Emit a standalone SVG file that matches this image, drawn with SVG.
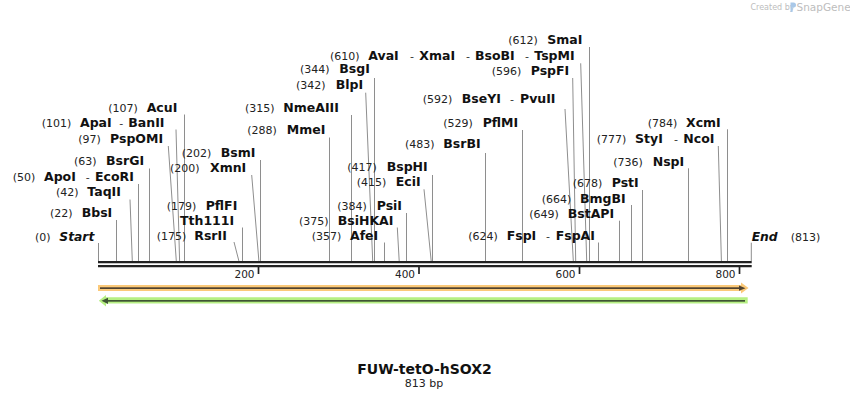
<svg xmlns="http://www.w3.org/2000/svg" width="850" height="400" viewBox="0 0 850 400">
<style>
text{font-family:"DejaVu Sans","Liberation Sans",sans-serif}
.n{font-size:11px;fill:#222}
.e{font-size:12.5px;font-weight:bold;fill:#111}
.i{font-size:12.3px;font-weight:bold;font-style:italic;fill:#111}
.d{font-size:11px;fill:#333}
.c{stroke:#8e8e8e;stroke-width:1;fill:none}
.t{font-size:10.5px;fill:#222;text-anchor:end}
.tk{stroke:#222;stroke-width:1.7}
.bb{stroke:#222;stroke-width:2.3}
</style>
<rect width="850" height="400" fill="#fff"/>
<g id="watermark">
<text x="750.5" y="10" style="font-size:8px;fill:#bdbdbd">Created by</text>
<path d="M790.5 2.5 h3 a2.5 2.5 0 0 1 0 5 h-1 v4.5 h-2 z" fill="#a9c8e8"/>
<text x="796.5" y="11" style="font-size:10.5px;fill:#bdbdbd">SnapGene</text>
</g>
<g id="connectors">
<line class="c" x1="98.5" y1="243" x2="98.5" y2="261"/>
<line class="c" x1="116.5" y1="220" x2="116.5" y2="261"/>
<line class="c" x1="130" y1="199.5" x2="132.3" y2="261"/>
<line class="c" x1="138.5" y1="184" x2="138.5" y2="261"/>
<line class="c" x1="149.5" y1="168.5" x2="149.5" y2="261"/>
<line class="c" x1="168.3" y1="146" x2="176.3" y2="261"/>
<line class="c" x1="176" y1="129.5" x2="179.6" y2="261"/>
<line class="c" x1="184.5" y1="114.5" x2="184.5" y2="261"/>
<line class="c" x1="234" y1="242" x2="238.9" y2="261"/>
<line class="c" x1="242.5" y1="227.5" x2="242.5" y2="261"/>
<line class="c" x1="251.7" y1="175" x2="258.9" y2="261"/>
<line class="c" x1="260.5" y1="160" x2="260.5" y2="261"/>
<line class="c" x1="329.5" y1="137.5" x2="329.5" y2="261"/>
<line class="c" x1="351.5" y1="115" x2="351.5" y2="261"/>
<line class="c" x1="365.7" y1="92.7" x2="372.7" y2="261"/>
<line class="c" x1="374.5" y1="78" x2="374.5" y2="261"/>
<line class="c" x1="384.5" y1="242.5" x2="384.5" y2="261"/>
<line class="c" x1="397.3" y1="227.5" x2="399.2" y2="261"/>
<line class="c" x1="406.5" y1="213" x2="406.5" y2="261"/>
<line class="c" x1="424" y1="189.3" x2="431.2" y2="261"/>
<line class="c" x1="432.5" y1="175" x2="432.5" y2="261"/>
<line class="c" x1="485.5" y1="153" x2="485.5" y2="261"/>
<line class="c" x1="522.5" y1="130" x2="522.5" y2="261"/>
<line class="c" x1="565" y1="109" x2="573.3" y2="261"/>
<line class="c" x1="572.7" y1="78" x2="575.7" y2="261"/>
<line class="c" x1="580.7" y1="63.3" x2="586.7" y2="261"/>
<line class="c" x1="589.5" y1="47" x2="589.5" y2="261"/>
<line class="c" x1="598.5" y1="242.5" x2="598.5" y2="261"/>
<line class="c" x1="619.5" y1="220.7" x2="619.5" y2="261"/>
<line class="c" x1="631.5" y1="205" x2="631.5" y2="261"/>
<line class="c" x1="642.5" y1="190" x2="642.5" y2="261"/>
<line class="c" x1="688.5" y1="168.3" x2="688.5" y2="261"/>
<line class="c" x1="718.3" y1="146" x2="721.4" y2="261"/>
<line class="c" x1="727.5" y1="129.3" x2="727.5" y2="261"/>
<line class="c" x1="751.3" y1="242.7" x2="751.3" y2="261"/>
</g>
<g id="backbone">
<line class="bb" x1="98" y1="262.2" x2="751.7" y2="262.2"/>
<line class="bb" x1="98" y1="266.2" x2="751.7" y2="266.2"/>
<line class="tk" x1="258.5" y1="267" x2="258.5" y2="274"/>
<line class="tk" x1="419" y1="267" x2="419" y2="274"/>
<line class="tk" x1="579.5" y1="267" x2="579.5" y2="274"/>
<line class="tk" x1="739.5" y1="267" x2="739.5" y2="274"/>
<text class="t" x="254.5" y="278.3">200</text>
<text class="t" x="415" y="278.3">400</text>
<text class="t" x="575.5" y="278.3">600</text>
<text class="t" x="735.5" y="278.3">800</text>
</g>
<g id="feature-forward">
<path d="M98 285 H741 V282.5 L748.5 288 L741 293.5 V291 H98 Z" fill="#fbc979"/>
<rect x="100" y="287.3" width="640" height="1.7" fill="#4f4230"/>
<path d="M739 285.6 L745.5 288.15 L739 290.7 Z" fill="#4f4230"/>
</g>
<g id="feature-reverse">
<path d="M747.7 297.3 H106 V295 L98.8 300.8 L106 306.6 V303.6 H747.7 Z" fill="#b6ef83"/>
<rect x="107" y="300" width="638" height="1.7" fill="#3f5534"/>
<path d="M108 297.8 L101.5 300.85 L108 303.9 Z" fill="#3f5534"/>
</g>
<g id="start"><text class="n" x="35" y="240.5">(0)</text><text class="i" x="59.3" y="240.5">Start</text></g>
<g id="BbsI"><text class="n" x="50" y="217.3">(22)</text><text class="e" x="81.7" y="217.3">BbsI</text></g>
<g id="TaqII"><text class="n" x="56" y="196">(42)</text><text class="e" x="87.3" y="196">TaqII</text></g>
<g id="ApoI-EcoRI"><text class="n" x="12.7" y="180.7">(50)</text><text class="e" x="44" y="180.7">ApoI</text><text class="d" x="85.7" y="180.7">-</text><text class="e" x="95" y="180.7">EcoRI</text></g>
<g id="BsrGI"><text class="n" x="74" y="165.3">(63)</text><text class="e" x="106" y="165.3">BsrGI</text></g>
<g id="PspOMI"><text class="n" x="78.3" y="143.3">(97)</text><text class="e" x="110" y="143.3">PspOMI</text></g>
<g id="ApaI-BanII"><text class="n" x="41.7" y="126.7">(101)</text><text class="e" x="80" y="126.7">ApaI</text><text class="d" x="119.3" y="126.7">-</text><text class="e" x="128.3" y="126.7">BanII</text></g>
<g id="AcuI"><text class="n" x="108.3" y="112">(107)</text><text class="e" x="146.7" y="112">AcuI</text></g>
<g id="RsrII"><text class="n" x="156.7" y="240">(175)</text><text class="e" x="194.3" y="240">RsrII</text></g>
<g id="PflFI-Tth111I"><text class="n" x="166.7" y="210">(179)</text><text class="e" x="205.7" y="210">PflFI</text><text class="e" x="180" y="224.7">Tth111I</text></g>
<g id="XmnI"><text class="n" x="170" y="171.7">(200)</text><text class="e" x="210" y="171.7">XmnI</text></g>
<g id="BsmI"><text class="n" x="181.7" y="156.7">(202)</text><text class="e" x="220.7" y="156.7">BsmI</text></g>
<g id="MmeI"><text class="n" x="247.3" y="134">(288)</text><text class="e" x="286.7" y="134">MmeI</text></g>
<g id="NmeAIII"><text class="n" x="245" y="111.7">(315)</text><text class="e" x="283.3" y="111.7">NmeAIII</text></g>
<g id="BlpI"><text class="n" x="296" y="89.3">(342)</text><text class="e" x="335.7" y="89.3">BlpI</text></g>
<g id="BsgI"><text class="n" x="300" y="73.3">(344)</text><text class="e" x="339.3" y="73.3">BsgI</text></g>
<g id="AfeI"><text class="n" x="311.7" y="240">(357)</text><text class="e" x="350" y="240">AfeI</text></g>
<g id="BsiHKAI"><text class="n" x="299" y="225">(375)</text><text class="e" x="337.7" y="225">BsiHKAI</text></g>
<g id="PsiI"><text class="n" x="337.3" y="210">(384)</text><text class="e" x="376.7" y="210">PsiI</text></g>
<g id="EciI"><text class="n" x="356.7" y="186">(415)</text><text class="e" x="395.7" y="186">EciI</text></g>
<g id="BspHI"><text class="n" x="347.3" y="171">(417)</text><text class="e" x="386.7" y="171">BspHI</text></g>
<g id="BsrBI"><text class="n" x="405" y="148.3">(483)</text><text class="e" x="443.3" y="148.3">BsrBI</text></g>
<g id="PflMI"><text class="n" x="443.3" y="126.7">(529)</text><text class="e" x="482.7" y="126.7">PflMI</text></g>
<g id="BseYI-PvuII"><text class="n" x="422.7" y="103.3">(592)</text><text class="e" x="461.7" y="103.3">BseYI</text><text class="d" x="510" y="103.3">-</text><text class="e" x="520" y="103.3">PvuII</text></g>
<g id="PspFI"><text class="n" x="491.7" y="74.5">(596)</text><text class="e" x="530.7" y="74.5">PspFI</text></g>
<g id="AvaI-XmaI-BsoBI-TspMI"><text class="n" x="330" y="60">(610)</text><text class="e" x="368.3" y="60">AvaI</text><text class="d" x="410" y="60">-</text><text class="e" x="419.3" y="60">XmaI</text><text class="d" x="466" y="60">-</text><text class="e" x="475" y="60">BsoBI</text><text class="d" x="525" y="60">-</text><text class="e" x="534.3" y="60">TspMI</text></g>
<g id="SmaI"><text class="n" x="508.3" y="44">(612)</text><text class="e" x="547.3" y="44">SmaI</text></g>
<g id="FspI-FspAI"><text class="n" x="468.3" y="240">(624)</text><text class="e" x="506.7" y="240">FspI</text><text class="d" x="546" y="240">-</text><text class="e" x="555.7" y="240">FspAI</text></g>
<g id="BstAPI"><text class="n" x="529.3" y="217.7">(649)</text><text class="e" x="567.7" y="217.7">BstAPI</text></g>
<g id="BmgBI"><text class="n" x="541.7" y="202.7">(664)</text><text class="e" x="580" y="202.7">BmgBI</text></g>
<g id="PstI"><text class="n" x="572.7" y="187.3">(678)</text><text class="e" x="611.7" y="187.3">PstI</text></g>
<g id="NspI"><text class="n" x="613.3" y="165.7">(736)</text><text class="e" x="652.7" y="165.7">NspI</text></g>
<g id="StyI-NcoI"><text class="n" x="596.7" y="142.7">(777)</text><text class="e" x="635" y="142.7">StyI</text><text class="d" x="674" y="142.7">-</text><text class="e" x="683.3" y="142.7">NcoI</text></g>
<g id="XcmI"><text class="n" x="647.7" y="127.3">(784)</text><text class="e" x="686" y="127.3">XcmI</text></g>
<g id="end"><text class="i" x="751.7" y="240.5">End</text><text class="n" x="790.7" y="240.5">(813)</text></g>
<g id="title">
<text x="424.5" y="374" text-anchor="middle" style="font-size:14px;font-weight:bold;fill:#111">FUW-tetO-hSOX2</text>
<text x="424" y="386.7" text-anchor="middle" style="font-size:11px;fill:#222">813 bp</text>
</g>
</svg>
